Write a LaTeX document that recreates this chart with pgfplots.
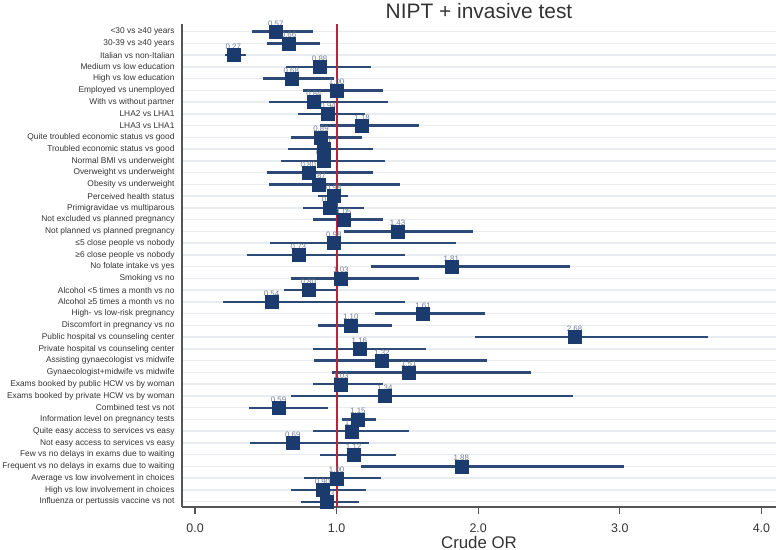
\documentclass[border=0pt]{standalone}
\usepackage{fontspec}
\setmainfont{Liberation Sans}
\usepackage{pgfplots}
\pgfplotsset{compat=1.18}
\usepackage{pgfplotstable}

\definecolor{sqcol}{HTML}{1B3B6F}
\definecolor{cicol}{HTML}{2C4A75}
\definecolor{refred}{HTML}{C0203F}
\definecolor{gridcol}{HTML}{E8ECF1}
\definecolor{txtcol}{HTML}{333333}
\definecolor{vlabcol}{HTML}{6E7C92}
\definecolor{axcol}{HTML}{555555}

% row, odds ratio, lower and upper 95% CI
\pgfplotstableread{
y  or   lo   hi
1  0.57 0.40 0.83
2  0.66 0.51 0.88
3  0.27 0.21 0.36
4  0.88 0.64 1.24
5  0.68 0.48 0.98
6  1.00 0.76 1.33
7  0.84 0.52 1.36
8  0.94 0.73 1.20
9  1.18 0.88 1.58
10 0.89 0.68 1.18
11 0.91 0.66 1.26
12 0.91 0.61 1.34
13 0.80 0.51 1.26
14 0.87 0.52 1.45
15 0.98 0.87 1.08
16 0.95 0.76 1.19
17 1.05 0.83 1.33
18 1.43 1.05 1.96
19 0.98 0.53 1.84
20 0.73 0.37 1.48
21 1.81 1.24 2.65
22 1.03 0.68 1.58
23 0.80 0.63 1.01
24 0.54 0.20 1.48
25 1.61 1.27 2.05
26 1.10 0.87 1.39
27 2.68 1.98 3.62
28 1.16 0.83 1.63
29 1.32 0.84 2.06
30 1.51 0.97 2.37
31 1.03 0.83 1.33
32 1.34 0.68 2.67
33 0.59 0.38 0.94
34 1.15 1.04 1.28
35 1.11 0.83 1.51
36 0.69 0.39 1.23
37 1.12 0.88 1.42
38 1.88 1.17 3.03
39 1.00 0.77 1.31
40 0.90 0.68 1.21
41 0.93 0.75 1.16
}\ordata

\begin{document}
\begin{tikzpicture}
\begin{axis}[
  scale only axis, width=594bp, height=483bp,
  xmin=-0.092, xmax=4.103, ymin=0.35, ymax=41.45, y dir=reverse,
  axis x line*=bottom, axis y line*=left,
  axis line style={axcol, line width=1.2bp},
  /pgf/number format/assume math mode=true,
  xtick={0,1,2,3,4}, xticklabels={0.0,1.0,2.0,3.0,4.0},
  tick align=outside, major tick length=7bp,
  x tick style={axcol, line width=1.1bp},
  ytick={1,...,41}, y tick style={draw=none},
  yticklabels={<30 vs ≥40 years, 30-39 vs ≥40 years, Italian vs non-Italian,
    Medium vs low education, High vs low education, Employed vs unemployed,
    With vs without partner, LHA2 vs LHA1, LHA3 vs LHA1,
    Quite troubled economic status vs good, Troubled economic status vs good,
    Normal BMI vs underweight, Overweight vs underweight, Obesity vs underweight,
    Perceived health status, Primigravidae vs multiparous,
    Not excluded vs planned pregnancy, Not planned vs planned pregnancy,
    ≤5 close people vs nobody, ≥6 close people vs nobody, No folate intake vs yes,
    Smoking vs no, Alcohol <5 times a month vs no, Alcohol ≥5 times a month vs no,
    High- vs low-risk pregnancy, Discomfort in pregnancy vs no,
    Public hospital vs counseling center, Private hospital vs counseling center,
    Assisting gynaecologist vs midwife, Gynaecologist+midwife vs midwife,
    Exams booked by public HCW vs by woman, Exams booked by private HCW vs by woman,
    Combined test vs not, Information level on pregnancy tests,
    Quite easy access to services vs easy, Not easy access to services vs easy,
    Few vs no delays in exams due to waiting, Frequent vs no delays in exams due to waiting,
    Average vs low involvement in choices, High vs low involvement in choices,
    Influenza or pertussis vaccine vs not},
  yticklabel style={font=\fontsize{8.4}{9}\selectfont, text=txtcol, xshift=3bp},
  xticklabel style={font=\fontsize{12.5}{13}\selectfont, text=txtcol, yshift=-6bp},
  ymajorgrids, grid style={gridcol, line width=1.5bp},
  title={NIPT + invasive test},
  title style={at={(axis description cs:0.5,1)}, anchor=base, inner sep=0pt,
    font=\fontsize{21}{24}\selectfont, text=txtcol},
  xlabel={Crude OR},
  xlabel style={at={(axis description cs:0.5,0)}, anchor=base, yshift=-41bp, inner sep=0pt,
    font=\fontsize{16.9}{18}\selectfont, text=txtcol},
  clip=false,
]
% confidence intervals
\addplot[only marks, mark=none,
  error bars/.cd, x dir=both, x explicit, error mark=none,
  error bar style={cicol, line width=2.4bp}]
  table[x=or, y=y, x error plus expr=\thisrow{hi}-\thisrow{or},
        x error minus expr=\thisrow{or}-\thisrow{lo}] {\ordata};
% reference line at OR = 1
\addplot[refred, line width=1.8bp, mark=none] coordinates {(1,0.35) (1,41.45)};
% value labels (drawn under the squares)
\addplot[only marks, mark=none, point meta=explicit,
  nodes near coords={\pgfmathprintnumber[fixed,fixed zerofill,precision=2]{\pgfplotspointmeta}},
  every node near coord/.style={font=\fontsize{7.9}{8}\selectfont, text=vlabcol,
    anchor=base, yshift=5.5bp, inner sep=0pt}]
  table[x=or, y=y, meta=or] {\ordata};
% odds ratio squares
\addplot[only marks, mark=square*, mark size=6.5bp, sqcol]
  table[x=or, y=y] {\ordata};
\end{axis}
\pgfresetboundingbox
\path (-182bp,-43bp) rectangle (594bp,507bp);
\end{tikzpicture}
\end{document}
